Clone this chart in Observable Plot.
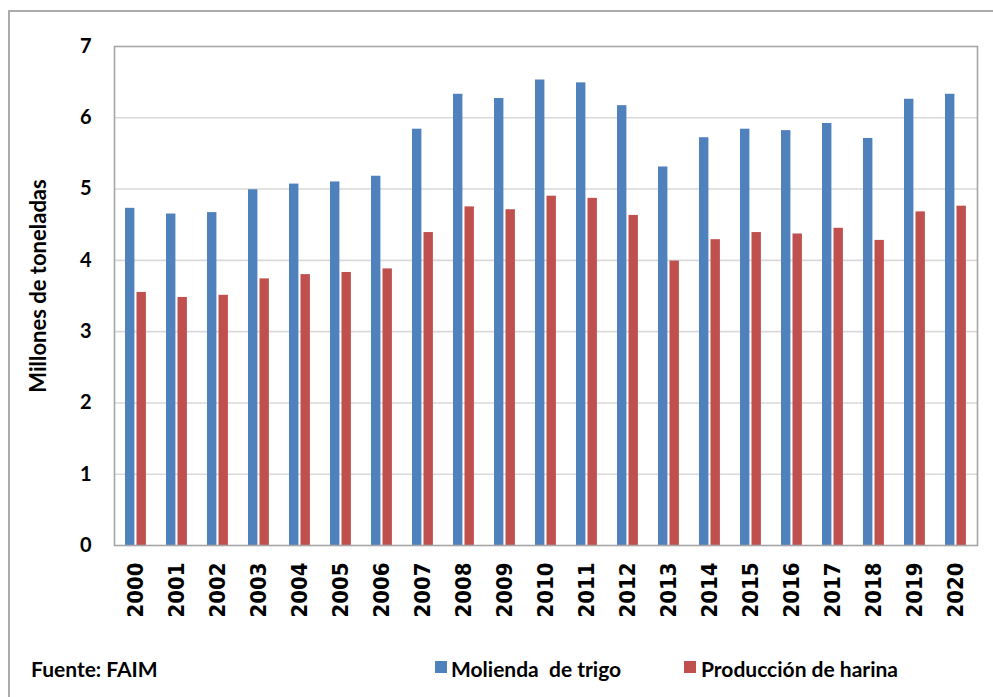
<!DOCTYPE html>
<html><head><meta charset="utf-8">
<script src="https://cdn.jsdelivr.net/npm/d3@7"></script>
<script src="https://cdn.jsdelivr.net/npm/@observablehq/plot@0.6"></script>
<style>
html,body{margin:0;padding:0;background:#fff;}
body{width:993px;height:697px;overflow:hidden;position:relative;font-family:Lato,"Open Sans",sans-serif;color:#000;}
#border{position:absolute;left:8px;top:10px;width:1100px;height:800px;border-left:2px solid #ababab;border-top:2px solid #ababab;}
#chart{position:absolute;left:0;top:0;}
.foot{position:absolute;font-weight:bold;font-size:21px;white-space:pre;line-height:1;}
.sw{position:absolute;width:12px;height:12px;}
</style>
</head><body>
<div id="border"></div>
<div id="chart"></div>
<div class="foot" id="src" style="left:31px;top:658px;">Fuente: FAIM</div>
<div class="sw" id="sw0" style="left:435px;top:661px;"></div>
<div class="foot" id="lg0" style="left:451px;top:658px;"></div>
<div class="sw" id="sw1" style="left:684px;top:661px;"></div>
<div class="foot" id="lg1" style="left:701px;top:658px;"></div>
<script>
const years = ["2000","2001","2002","2003","2004","2005","2006","2007","2008","2009","2010","2011","2012","2013","2014","2015","2016","2017","2018","2019","2020"];
const molienda = [4.73,4.65,4.67,4.99,5.07,5.10,5.18,5.84,6.33,6.27,6.53,6.49,6.17,5.31,5.72,5.84,5.82,5.92,5.71,6.26,6.33];
const harina = [3.55,3.48,3.51,3.74,3.80,3.83,3.88,4.39,4.75,4.71,4.90,4.87,4.63,3.99,4.29,4.39,4.37,4.45,4.28,4.68,4.76];
const seriesNames = ["Molienda  de trigo","Producción de harina"];
const seriesColors = ["#4f81bd","#c0504d"];
const yTicks = [0,1,2,3,4,5,6,7];
const yLabel = "Millones de toneladas";

const rowsM = years.map((y,i)=>({year:y, value:molienda[i]}));
const rowsH = years.map((y,i)=>({year:y, value:harina[i]}));

const chart = Plot.plot({
  width: 993, height: 630,
  marginLeft: 114, marginRight: 16, marginTop: 46, marginBottom: 85,
  style: {fontFamily: "Lato, 'Open Sans', sans-serif", color: "#000", background: "transparent"},
  x: {type: "band", domain: years, padding: 0, label: null},
  y: {domain: [0, 7], ticks: yTicks, label: null},
  marks: [
    Plot.ruleY(yTicks.filter(t => t > 0 && t < 7), {stroke: "#d9d9d9", strokeWidth: 1.6}),
    Plot.barY(rowsM, {x: "year", y: "value", fill: seriesColors[0], insetLeft: 10, insetRight: 21.6}),
    Plot.barY(rowsH, {x: "year", y: "value", fill: seriesColors[1], insetLeft: 21.5, insetRight: 10.1}),
    Plot.frame({stroke: "#a6a6a6", strokeWidth: 1.6}),
    Plot.axisX({tickRotate: -90, tickSize: 0, tickPadding: 17, fontSize: 22, fontWeight: "bold",
      fontFamily: "'Liberation Sans Narrow', 'DejaVu Sans Condensed', sans-serif", label: null}),
    Plot.axisY({ticks: yTicks, tickFormat: d => String(d), tickSize: 0, tickPadding: 23, fontSize: 20, fontWeight: "bold", label: null}),
    Plot.text([yLabel], {text: d => d, frameAnchor: "left", textAnchor: "middle", rotate: -90, dx: -76, dy: -10, fontSize: 22, fontWeight: "bold", fill: "#000"})
  ]
});
document.getElementById("chart").appendChild(chart);
document.getElementById("sw0").style.background = seriesColors[0];
document.getElementById("sw1").style.background = seriesColors[1];
document.getElementById("lg0").textContent = seriesNames[0];
document.getElementById("lg1").textContent = seriesNames[1];
</script>
</body></html>
